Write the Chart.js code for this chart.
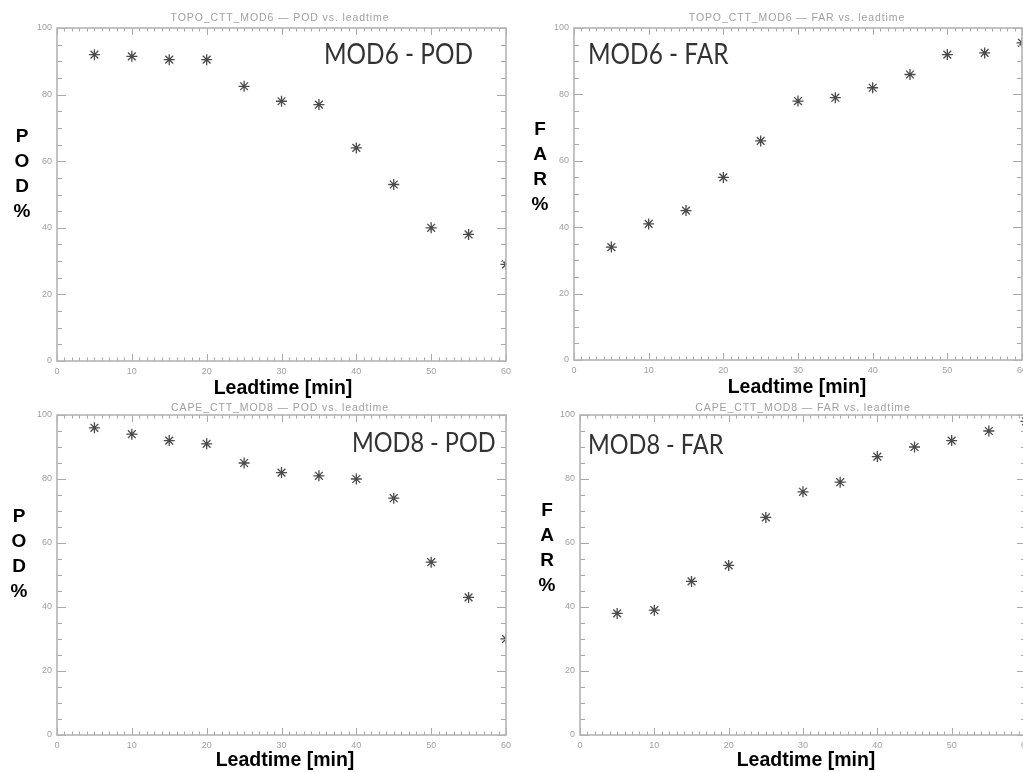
<!DOCTYPE html>
<html>
<head>
<meta charset="utf-8">
<script src="https://cdn.jsdelivr.net/npm/chart.js@4/dist/chart.umd.min.js"></script>
<style>
  html, body { margin:0; padding:0; background:#fff; width:1023px; height:772px; overflow:hidden; position:relative; }
  canvas { position:absolute; }
  .title { position:absolute; font-family:"Liberation Sans", Arial, sans-serif; font-size:10.5px; color:#a0a0a0; white-space:nowrap; transform:translate(-50%,-50%); letter-spacing:0.9px; }
  .ann { position:absolute; font-family:Lato, "Open Sans", sans-serif; color:#333; white-space:nowrap; line-height:1; transform-origin:0 0; transform:scaleX(0.87); }
  .xlab { position:absolute; font-family:"Liberation Sans", Arial, sans-serif; font-weight:bold; font-size:19.5px; color:#000; white-space:nowrap; transform:translate(-50%,-50%); }
  .ylab { position:absolute; font-family:"Liberation Sans", Arial, sans-serif; font-weight:bold; font-size:19px; color:#000; text-align:center; width:30px; line-height:25px; transform:translateX(-50%); }
</style>
</head>
<body>
<script>
// ---- data ----
const leadtimes = [5, 10, 15, 20, 25, 30, 35, 40, 45, 50, 55, 60];
const mod6Pod = [92, 91.5, 90.5, 90.5, 82.5, 78, 77, 64, 53, 40, 38, 29];
const mod6Far = [34, 41, 45, 55, 66, 78, 79, 82, 86, 92, 92.5, 95.5];
const mod8Pod = [96, 94, 92, 91, 85, 82, 81, 80, 74, 54, 43, 30];
const mod8Far = [38, 39, 48, 53, 68, 76, 79, 87, 90, 92, 95, 98];
const xTickLabels = [0, 10, 20, 30, 40, 50, 60];
const yTickLabels = [0, 20, 40, 60, 80, 100];
const xMinorStep = 1;
const yMinorStep = 5;

const panels = [
  { id:'c1', data:mod6Pod, left:0,   top:0,   w:520, h:385, padTop:28, padRight:14, yW:57, xH:24,
    title:'TOPO_CTT_MOD6 \u2014 POD vs. leadtime', tx:280, ty:17,
    ann:'MOD6 - POD', afs:28, ax:324, ay:39, ylab:['P','O','D','%'], lx:22, ly:123, xl:'Leadtime [min]', xlx:283, xly:387 },
  { id:'c2', data:mod6Far, left:515, top:0,   w:525, h:385, padTop:28, padRight:18, yW:59, xH:25,
    title:'TOPO_CTT_MOD6 \u2014 FAR vs. leadtime', tx:797, ty:17,
    ann:'MOD6 - FAR', afs:28, ax:588, ay:39, ylab:['F','A','R','%'], lx:540, ly:116, xl:'Leadtime [min]', xlx:797, xly:386 },
  { id:'c3', data:mod8Pod, left:0,   top:385, w:520, h:375, padTop:30, padRight:14, yW:57, xH:25,
    title:'CAPE_CTT_MOD8 \u2014 POD vs. leadtime', tx:280, ty:407,
    ann:'MOD8 - POD', afs:27, ax:352, ay:428, ylab:['P','O','D','%'], lx:19, ly:503, xl:'Leadtime [min]', xlx:285, xly:759 },
  { id:'c4', data:mod8Far, left:515, top:385, w:525, h:375, padTop:30, padRight:14, yW:65, xH:25,
    title:'CAPE_CTT_MOD8 \u2014 FAR vs. leadtime', tx:803, ty:407,
    ann:'MOD8 - FAR', afs:27, ax:588, ay:430, ylab:['F','A','R','%'], lx:547, ly:497, xl:'Leadtime [min]', xlx:806, xly:759 }
];

const idlBox = {
  id:'idlBox',
  afterDraw(chart) {
    const ctx = chart.ctx, xs = chart.scales.x, ys = chart.scales.y, a = chart.chartArea;
    ctx.save();
    ctx.strokeStyle = '#a8a8a8';
    ctx.lineWidth = 1;
    for (let v = xs.min; v <= xs.max; v += xMinorStep) {
      const px = Math.round(xs.getPixelForValue(v)) + 0.5;
      const len = xTickLabels.includes(v) ? 7 : 3.5;
      ctx.beginPath();
      ctx.moveTo(px, a.bottom); ctx.lineTo(px, a.bottom - len);
      ctx.moveTo(px, a.top); ctx.lineTo(px, a.top + len);
      ctx.stroke();
    }
    for (let v = ys.min; v <= ys.max; v += yMinorStep) {
      const py = Math.round(ys.getPixelForValue(v)) + 0.5;
      const len = yTickLabels.includes(v) ? 9 : 5;
      ctx.beginPath();
      ctx.moveTo(a.left, py); ctx.lineTo(a.left + len, py);
      ctx.moveTo(a.right, py); ctx.lineTo(a.right - len, py);
      ctx.stroke();
    }
    ctx.lineWidth = 1.6;
    ctx.strokeStyle = '#b4b4b4';
    ctx.strokeRect(a.left, a.top, a.right - a.left, a.bottom - a.top);
    ctx.restore();
  }
};

function addDiv(cls, text, x, y) {
  const d = document.createElement('div');
  d.className = cls; d.textContent = text;
  d.style.left = x + 'px'; d.style.top = y + 'px';
  document.body.appendChild(d);
  return d;
}

panels.forEach(p => {
  const c = document.createElement('canvas');
  c.id = p.id; c.width = p.w; c.height = p.h;
  c.style.left = p.left + 'px'; c.style.top = p.top + 'px';
  c.style.width = p.w + 'px'; c.style.height = p.h + 'px';
  document.body.appendChild(c);

  new Chart(c, {
    type:'scatter',
    data:{ datasets:[{
      data: leadtimes.map((t, i) => ({ x:t, y:p.data[i] })),
      pointStyle:'star', pointRadius:5.5, pointBorderWidth:1.3,
      borderColor:'#4a4a4a', backgroundColor:'rgba(0,0,0,0)'
    }]},
    options:{
      responsive:false, animation:false, devicePixelRatio:1,
      layout:{ padding:{ top:p.padTop, right:p.padRight, left:0, bottom:0 } },
      plugins:{ legend:{ display:false }, tooltip:{ enabled:false } },
      scales:{
        x:{ type:'linear', min:0, max:60,
            afterFit:(s)=>{ s.height = p.xH; },
            afterBuildTicks:(s)=>{ s.ticks = xTickLabels.map(v=>({value:v})); },
            ticks:{ color:'#a0a0a0', font:{ family:'Liberation Sans', size:9 }, padding:5, maxRotation:0, autoSkip:false },
            grid:{ display:false, drawTicks:false }, border:{ display:false } },
        y:{ type:'linear', min:0, max:100,
            afterFit:(s)=>{ s.width = p.yW; },
            afterBuildTicks:(s)=>{ s.ticks = yTickLabels.map(v=>({value:v})); },
            ticks:{ color:'#a0a0a0', font:{ family:'Liberation Sans', size:9 }, padding:5, autoSkip:false },
            grid:{ display:false, drawTicks:false }, border:{ display:false } }
      }
    },
    plugins:[idlBox]
  });

  addDiv('title', p.title, p.tx, p.ty);
  const an = addDiv('ann', p.ann, p.ax, p.ay);
  an.style.fontSize = p.afs + 'px';
  const yl = addDiv('ylab', '', p.lx, p.ly);
  yl.innerHTML = p.ylab.join('<br>');
  addDiv('xlab', p.xl, p.xlx, p.xly);
});
</script>
</body>
</html>
